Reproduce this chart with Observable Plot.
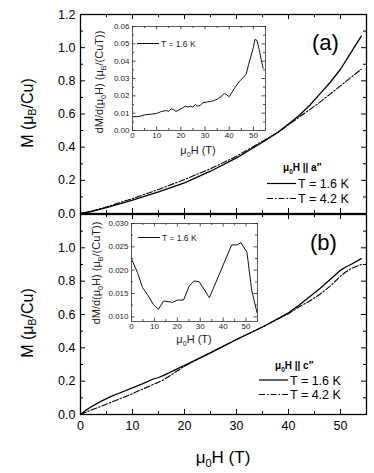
<!DOCTYPE html>
<html><head><meta charset="utf-8">
<script src="https://cdn.jsdelivr.net/npm/d3@7"></script>
<script src="https://cdn.jsdelivr.net/npm/@observablehq/plot@0.6"></script>
<style>
body{margin:0;background:#fff}
#chart{position:relative;width:374px;height:473px;font-family:"Liberation Sans",Arial,sans-serif}
#chart svg{position:absolute;overflow:visible;background:none}
</style>
</head><body><div id="chart"></div>
<script>
// ---- data: main panel (a), mu0H || a''
const fieldA = [0,2,5,10,15,20,25,30,35,38,40,42,44,46,48,50,52,54];
const mA_16K = [0,0.012,0.035,0.08,0.13,0.185,0.255,0.335,0.43,0.49,0.54,0.59,0.65,0.72,0.79,0.87,0.97,1.07];
const mA_42K = [0,0.013,0.04,0.09,0.145,0.205,0.27,0.345,0.435,0.49,0.535,0.58,0.625,0.67,0.72,0.77,0.82,0.87];
// ---- data: main panel (b), mu0H || c''
const fieldB = [0,1,2,4,6,8,10,12,14,15,16,20,25,30,35,40,42,44,46,48,50,51,52,54];
const mB_16K = [0,0.025,0.045,0.08,0.11,0.135,0.16,0.185,0.213,0.222,0.235,0.295,0.37,0.45,0.525,0.61,0.655,0.705,0.755,0.81,0.865,0.885,0.9,0.935];
const mB_42K = [0,0.013,0.026,0.05,0.075,0.1,0.125,0.153,0.18,0.194,0.208,0.29,0.372,0.45,0.525,0.605,0.645,0.68,0.72,0.77,0.83,0.855,0.875,0.9];
// ---- data: inset (a) dM/d(mu0H), T = 1.6 K
const insetAField = [0,2,3,5,8,10,12,14,15,16,17,18,20,22,23,24,25,26,27,28,29,31,33,35,37,38,40,42,44,46,47,48,49,50,50.6,51.5,52.5,53.2,54];
const insetAVal = [0.008,0.008,0.0082,0.009,0.0095,0.0098,0.011,0.0115,0.011,0.0125,0.012,0.011,0.0125,0.014,0.0135,0.014,0.0135,0.015,0.014,0.0145,0.016,0.0165,0.017,0.018,0.02,0.0215,0.0195,0.024,0.028,0.031,0.0325,0.038,0.043,0.048,0.0525,0.052,0.046,0.041,0.036];
// ---- data: inset (b)
const insetBField = [0,2.6,4.8,7.3,9.6,11.7,14,18,20,22.7,25.2,27.4,29.6,34,43.7,46,47.8,50.4,52.5,54.8];
const insetBVal = [0.0224,0.0195,0.0163,0.0145,0.0126,0.0116,0.0134,0.0131,0.0136,0.0136,0.0166,0.0177,0.0175,0.0141,0.0254,0.0254,0.0259,0.0238,0.0156,0.0109];
// ---- ticks
const mainXMajor = [0,10,20,30,40,50];
const mainXMinor = [5,15,25,35,45,55];
const mainYMajor = [0,0.2,0.4,0.6,0.8,1.0,1.2];
const mainYMinor = [0.1,0.3,0.5,0.7,0.9,1.1];
const insetXMajor = [0,10,20,30,40,50];
const insetXMinor = [5,15,25,35,45,55];
const insetAYMajor = [0,0.01,0.02,0.03,0.04,0.05,0.06];
const insetAYMinor = [0.005,0.015,0.025,0.035,0.045,0.055];
const insetBYMajor = [0.010,0.015,0.020,0.025,0.030];
const insetBYMinor = [0.0125,0.0175,0.0225,0.0275];

const FONT = '"Liberation Sans", Arial, sans-serif';
const DASHDOT = "6,2,1.5,2";
const rows = (xs, ys) => xs.map((x, i) => ({x, y: ys[i]}));

function boxTicks(xMaj, xMin, yMaj, yMin, pw, ph, L, l, sw) {
  const o = {stroke: "#000", strokeWidth: sw};
  return [
    Plot.tickX(xMaj, {x: d => d, insetTop: ph - L, ...o}),
    Plot.tickX(xMaj, {x: d => d, insetBottom: ph - L, ...o}),
    Plot.tickX(xMin, {x: d => d, insetTop: ph - l, ...o}),
    Plot.tickX(xMin, {x: d => d, insetBottom: ph - l, ...o}),
    Plot.tickY(yMaj, {y: d => d, insetRight: pw - L, ...o}),
    Plot.tickY(yMaj, {y: d => d, insetLeft: pw - L, ...o}),
    Plot.tickY(yMin, {y: d => d, insetRight: pw - l, ...o}),
    Plot.tickY(yMin, {y: d => d, insetLeft: pw - l, ...o})
  ];
}

const chart = document.getElementById("chart");
function place(svg, left, top) {
  svg.style.left = left + "px"; svg.style.top = top + "px";
  chart.appendChild(svg);
}

// ---------- main panel (a)
{
  const W = 374, H = 214, mt = 14, mb = 1, ml = 80, mr = 8;
  const p = Plot.plot({
    width: W, height: H, marginTop: mt, marginBottom: mb, marginLeft: ml, marginRight: mr,
    style: {fontFamily: FONT, fontSize: "12px", color: "#000", background: "none"},
    x: {domain: [0, 55], axis: null},
    y: {domain: [0, 1.2], axis: null},
    marks: [
      Plot.axisY({ticks: mainYMajor, tickSize: 0, tickPadding: 5, tickFormat: d3.format(".1f"), label: null, fontSize: 12.5}),
      ...boxTicks(mainXMajor, mainXMinor, mainYMajor, mainYMinor, W - ml - mr, H - mt - mb, 5, 3, 1),
      Plot.line(rows(fieldA, mA_42K), {x: "x", y: "y", stroke: "#000", strokeWidth: 1.1, strokeDasharray: DASHDOT}),
      Plot.line(rows(fieldA, mA_16K), {x: "x", y: "y", stroke: "#000", strokeWidth: 1.3}),
      Plot.frame({stroke: "#000", strokeWidth: 1.3})
    ]
  });
  place(p, 0, 0);
}
// ---------- main panel (b)
{
  const W = 374, H = 260, mt = 1, mb = 59, ml = 80, mr = 8;
  const p = Plot.plot({
    width: W, height: H, marginTop: mt, marginBottom: mb, marginLeft: ml, marginRight: mr,
    style: {fontFamily: FONT, fontSize: "12px", color: "#000", background: "none"},
    x: {domain: [0, 55], axis: null},
    y: {domain: [0, 1.2], axis: null},
    marks: [
      Plot.axisY({ticks: mainYMajor.slice(0, 6), tickSize: 0, tickPadding: 5, tickFormat: d3.format(".1f"), label: null, fontSize: 12.5}),
      Plot.axisX({ticks: mainXMajor, tickSize: 0, tickPadding: 7, tickFormat: d3.format("d"), label: null, fontSize: 12.5}),
      ...boxTicks(mainXMajor, mainXMinor, mainYMajor, mainYMinor, W - ml - mr, H - mt - mb, 5, 3, 1),
      Plot.line(rows(fieldB, mB_42K), {x: "x", y: "y", stroke: "#000", strokeWidth: 1.1, strokeDasharray: DASHDOT}),
      Plot.line(rows(fieldB, mB_16K), {x: "x", y: "y", stroke: "#000", strokeWidth: 1.3}),
      Plot.frame({stroke: "#000", strokeWidth: 1.3})
    ]
  });
  place(p, 0, 213);
}
// ---------- inset (a)
{
  const W = 185, H = 140, mt = 6, mb = 30, ml = 46, mr = 6;
  const p = Plot.plot({
    width: W, height: H, marginTop: mt, marginBottom: mb, marginLeft: ml, marginRight: mr,
    style: {fontFamily: FONT, fontSize: "8px", color: "#222", background: "none"},
    x: {domain: [0, 55], axis: null},
    y: {domain: [0, 0.06], axis: null},
    marks: [
      Plot.axisY({ticks: insetAYMajor, tickSize: 0, tickPadding: 3, tickFormat: d3.format(".2f"), label: null}),
      Plot.axisX({ticks: insetXMajor, tickSize: 0, tickPadding: 2, tickFormat: d3.format("d"), label: null}),
      ...boxTicks(insetXMajor, insetXMinor, insetAYMajor, insetAYMinor, W - ml - mr, H - mt - mb, 3.5, 2, 0.7),
      Plot.line(rows(insetAField, insetAVal), {x: "x", y: "y", stroke: "#111", strokeWidth: 1}),
      Plot.frame({stroke: "#333", strokeWidth: 0.8})
    ]
  });
  place(p, 86, 20);
}
// ---------- inset (b)
{
  const W = 185, H = 140, mt = 8, mb = 34, ml = 45, mr = 14;
  const p = Plot.plot({
    width: W, height: H, marginTop: mt, marginBottom: mb, marginLeft: ml, marginRight: mr,
    style: {fontFamily: FONT, fontSize: "8px", color: "#222", background: "none"},
    x: {domain: [0, 55], axis: null},
    y: {domain: [0.009, 0.030], axis: null},
    marks: [
      Plot.axisY({ticks: insetBYMajor, tickSize: 0, tickPadding: 3, tickFormat: d3.format(".3f"), label: null}),
      Plot.axisX({ticks: insetXMajor, tickSize: 0, tickPadding: 2, tickFormat: d3.format("d"), label: null}),
      ...boxTicks(insetXMajor, insetXMinor, insetBYMajor, insetBYMinor, W - ml - mr, H - mt - mb, 3.5, 2, 0.7),
      Plot.line(rows(insetBField, insetBVal), {x: "x", y: "y", stroke: "#111", strokeWidth: 1}),
      Plot.frame({stroke: "#333", strokeWidth: 0.8})
    ]
  });
  place(p, 86, 215);
}

// ---------- overlay: axis titles, legends, panel letters
const ov = d3.create("svg").attr("width", 374).attr("height", 473)
  .style("left", "0px").style("top", "0px").style("font-family", FONT);

function yTitle(x, y, size) {
  const t = ov.append("text").attr("transform", `translate(${x},${y}) rotate(-90)`)
    .attr("text-anchor", "middle").attr("font-size", size);
  t.append("tspan").text("M (μ");
  t.append("tspan").attr("font-size", size * 0.65).attr("dy", size * 0.2).text("B");
  t.append("tspan").attr("dy", -size * 0.2).text("/Cu)");
}
yTitle(33, 113, 16);
yTitle(33, 323, 16);

function insetYTitle(x, y, size) {
  const t = ov.append("text").attr("transform", `translate(${x},${y}) rotate(-90)`)
    .attr("text-anchor", "middle").attr("font-size", size).attr("fill", "#222");
  t.append("tspan").text("dM/d(μ");
  t.append("tspan").attr("font-size", size * 0.65).attr("dy", size * 0.25).text("0");
  t.append("tspan").attr("dy", -size * 0.25).text("H) (μ");
  t.append("tspan").attr("font-size", size * 0.65).attr("dy", size * 0.25).text("B");
  t.append("tspan").attr("dy", -size * 0.25).text("/(CuT))");
}
insetYTitle(103, 82, 11);
insetYTitle(100, 273, 11);

function xTitle(x, y, size, fill) {
  const t = ov.append("text").attr("x", x).attr("y", y).attr("text-anchor", "middle")
    .attr("font-size", size).attr("fill", fill);
  t.append("tspan").text("μ");
  t.append("tspan").attr("font-size", size * 0.65).attr("dy", size * 0.25).text("0");
  t.append("tspan").attr("dy", -size * 0.25).text("H (T)");
}
xTitle(223, 463, 17, "#000");
xTitle(198, 154, 11, "#222");
xTitle(194, 343, 11, "#222");

function panelLetter(txt, x, y) {
  ov.append("text").attr("x", x).attr("y", y).attr("font-size", 22).text(txt);
}
panelLetter("(a)", 312, 50);
panelLetter("(b)", 310, 250);

function legend(title, x0, x1, yTitleBase, y1, y2) {
  const t = ov.append("text").attr("x", x1 - 13).attr("y", yTitleBase).attr("font-size", 10).attr("font-weight", "bold");
  t.append("tspan").text("μ");
  t.append("tspan").attr("font-size", 6.5).attr("dy", 2.5).text("0");
  t.append("tspan").attr("dy", -2.5).text("H || " + title);
  const rowsL = [[y1, null, "T = 1.6 K"], [y2, DASHDOT, "T = 4.2 K"]];
  for (const [yy, dash, label] of rowsL) {
    ov.append("line").attr("x1", x0).attr("x2", x1).attr("y1", yy).attr("y2", yy)
      .attr("stroke", "#000").attr("stroke-width", 1.2).attr("stroke-dasharray", dash);
    ov.append("text").attr("x", x1 + 2).attr("y", yy + 4.5).attr("font-size", 12.5).text(label);
  }
}
legend("a′′", 267, 296, 171, 183.5, 198.5);
legend("c′′", 259, 288, 369, 380, 394.5);

function insetLegend(x0, x1, y) {
  ov.append("line").attr("x1", x0).attr("x2", x1).attr("y1", y).attr("y2", y)
    .attr("stroke", "#111").attr("stroke-width", 1);
  ov.append("text").attr("x", x1 + 2).attr("y", y + 3).attr("font-size", 8.5).attr("fill", "#222").text("T = 1.6 K");
}
insetLegend(137, 159, 43.5);
insetLegend(138, 160, 237.5);

chart.appendChild(ov.node());
</script>
</body></html>
